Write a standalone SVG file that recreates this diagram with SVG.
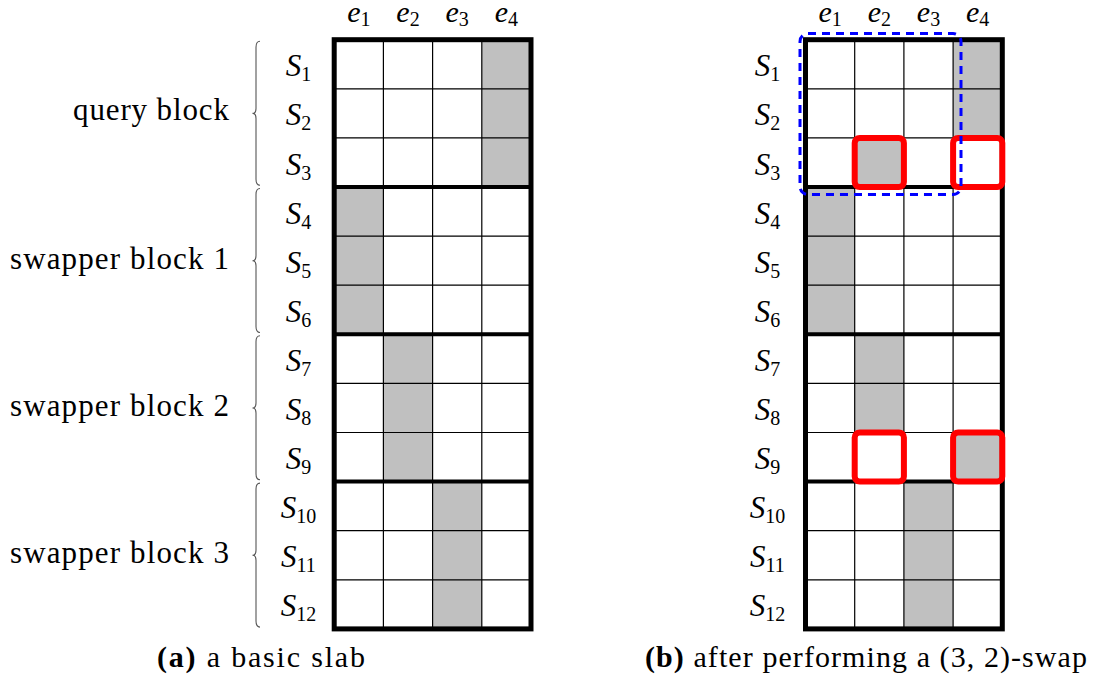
<svg xmlns="http://www.w3.org/2000/svg" width="1093" height="687" viewBox="0 0 1093 687" font-family="Liberation Serif, DejaVu Serif, serif">
  <style>
    text { font-family: "Liberation Serif", "DejaVu Serif", serif; fill: #000; }
    .m { font-style: italic; font-size: 31px; }
    .e { font-style: italic; font-size: 30px; }
    .sub { font-style: normal; font-size: 20px; }
    .blk { font-size: 31px; }
    .cap { font-size: 30px; }
    .fill { fill: #c0c0c0; }
    .thin { stroke: #000; stroke-width: 1.2; fill: none; }
    .thick { stroke: #000; stroke-width: 4; fill: none; }
    .border { stroke: #000; stroke-width: 5; fill: none; }
    .brace { stroke: #555; stroke-width: 1.1; fill: none; }
    .swap { stroke: #ff0000; stroke-width: 6; fill: none; }
    .query { stroke: #0000ff; stroke-width: 3; fill: none; stroke-dasharray: 8 6; }
  </style>

  <defs>
    <!-- shared grid lines of one 4x12 slab, local coordinates -->
    <g id="gridLines">
      <path class="thin" d="M49.2,0V589.2M98.4,0V589.2M147.6,0V589.2"/>
      <path class="thin" d="M0,49.1H196.8M0,98.2H196.8M0,196.4H196.8M0,245.5H196.8M0,343.7H196.8M0,392.8H196.8M0,491H196.8M0,540.1H196.8"/>
      <path class="thick" d="M0,147.3H196.8M0,294.6H196.8M0,441.9H196.8"/>
      <rect class="border" x="0" y="0" width="196.8" height="589.2"/>
    </g>
    <path id="braceShape" class="brace" d="M260,0 Q256,0 256,6 L256,67.2 Q256,72.2 252.5,72.2 Q256,72.2 256,77.2 L256,138 Q256,144 260,144"/>
  </defs>

  <!-- panel (a): basic slab -->
  <g id="slabA">
    <g transform="translate(334.2,39.7)">
      <rect class="fill" x="147.6" y="0" width="49.2" height="147.3"/>
      <rect class="fill" x="0" y="147.3" width="49.2" height="147.3"/>
      <rect class="fill" x="49.2" y="294.6" width="49.2" height="147.3"/>
      <rect class="fill" x="98.4" y="441.9" width="49.2" height="147.3"/>
      <use href="#gridLines"/>
    </g>
  </g>

  <g id="headerA">
    <text class="e" x="358.8" y="22" text-anchor="middle">e<tspan class="sub" dy="4">1</tspan></text>
    <text class="e" x="408" y="22" text-anchor="middle">e<tspan class="sub" dy="4">2</tspan></text>
    <text class="e" x="457.2" y="22" text-anchor="middle">e<tspan class="sub" dy="4">3</tspan></text>
    <text class="e" x="506.4" y="22" text-anchor="middle">e<tspan class="sub" dy="4">4</tspan></text>
  </g>

  <g id="rowsA">
    <text class="m" x="298.5" y="76.3" text-anchor="middle">S<tspan class="sub" dy="5">1</tspan></text>
    <text class="m" x="298.5" y="125.4" text-anchor="middle">S<tspan class="sub" dy="5">2</tspan></text>
    <text class="m" x="298.5" y="174.5" text-anchor="middle">S<tspan class="sub" dy="5">3</tspan></text>
    <text class="m" x="298.5" y="223.6" text-anchor="middle">S<tspan class="sub" dy="5">4</tspan></text>
    <text class="m" x="298.5" y="272.7" text-anchor="middle">S<tspan class="sub" dy="5">5</tspan></text>
    <text class="m" x="298.5" y="321.8" text-anchor="middle">S<tspan class="sub" dy="5">6</tspan></text>
    <text class="m" x="298.5" y="370.9" text-anchor="middle">S<tspan class="sub" dy="5">7</tspan></text>
    <text class="m" x="298.5" y="420" text-anchor="middle">S<tspan class="sub" dy="5">8</tspan></text>
    <text class="m" x="298.5" y="469.1" text-anchor="middle">S<tspan class="sub" dy="5">9</tspan></text>
    <text class="m" x="298.5" y="518.2" text-anchor="middle">S<tspan class="sub" dy="5">10</tspan></text>
    <text class="m" x="298.5" y="567.3" text-anchor="middle">S<tspan class="sub" dy="5">11</tspan></text>
    <text class="m" x="298.5" y="616.4" text-anchor="middle">S<tspan class="sub" dy="5">12</tspan></text>
  </g>

  <g id="blocks">
    <use href="#braceShape" transform="translate(0,41.2)"/>
    <use href="#braceShape" transform="translate(0,188.5)"/>
    <use href="#braceShape" transform="translate(0,335.8)"/>
    <use href="#braceShape" transform="translate(0,483.1)"/>
    <text class="blk" x="229" y="120" text-anchor="end" textLength="156" lengthAdjust="spacing">query block</text>
    <text class="blk" x="229" y="268.5" text-anchor="end" textLength="219" lengthAdjust="spacing">swapper block 1</text>
    <text class="blk" x="229" y="415.8" text-anchor="end" textLength="219" lengthAdjust="spacing">swapper block 2</text>
    <text class="blk" x="229" y="563.1" text-anchor="end" textLength="219" lengthAdjust="spacing">swapper block 3</text>
  </g>

  <!-- panel (b): after the (3,2)-swap -->
  <g id="slabB">
    <g transform="translate(805.5,39.7)">
      <rect class="fill" x="147.6" y="0" width="49.2" height="98.2"/>
      <rect class="fill" x="49.2" y="98.2" width="49.2" height="49.1"/>
      <rect class="fill" x="0" y="147.3" width="49.2" height="147.3"/>
      <rect class="fill" x="49.2" y="294.6" width="49.2" height="98.2"/>
      <rect class="fill" x="147.6" y="392.8" width="49.2" height="49.1"/>
      <rect class="fill" x="98.4" y="441.9" width="49.2" height="147.3"/>
      <use href="#gridLines"/>
      <g id="swappedCells">
        <rect class="swap" x="49.2" y="98.2" width="49.2" height="49.1" rx="5"/>
        <rect class="swap" x="147.6" y="98.2" width="49.2" height="49.1" rx="5"/>
        <rect class="swap" x="49.2" y="392.8" width="49.2" height="49.1" rx="5"/>
        <rect class="swap" x="147.6" y="392.8" width="49.2" height="49.1" rx="5"/>
      </g>
    </g>
    <rect id="queryRegion" class="query" x="800" y="33.5" width="161" height="161" rx="8"/>
  </g>

  <g id="headerB">
    <text class="e" x="830.1" y="22" text-anchor="middle">e<tspan class="sub" dy="4">1</tspan></text>
    <text class="e" x="879.3" y="22" text-anchor="middle">e<tspan class="sub" dy="4">2</tspan></text>
    <text class="e" x="928.5" y="22" text-anchor="middle">e<tspan class="sub" dy="4">3</tspan></text>
    <text class="e" x="977.7" y="22" text-anchor="middle">e<tspan class="sub" dy="4">4</tspan></text>
  </g>

  <g id="rowsB">
    <text class="m" x="767.5" y="76.3" text-anchor="middle">S<tspan class="sub" dy="5">1</tspan></text>
    <text class="m" x="767.5" y="125.4" text-anchor="middle">S<tspan class="sub" dy="5">2</tspan></text>
    <text class="m" x="767.5" y="174.5" text-anchor="middle">S<tspan class="sub" dy="5">3</tspan></text>
    <text class="m" x="767.5" y="223.6" text-anchor="middle">S<tspan class="sub" dy="5">4</tspan></text>
    <text class="m" x="767.5" y="272.7" text-anchor="middle">S<tspan class="sub" dy="5">5</tspan></text>
    <text class="m" x="767.5" y="321.8" text-anchor="middle">S<tspan class="sub" dy="5">6</tspan></text>
    <text class="m" x="767.5" y="370.9" text-anchor="middle">S<tspan class="sub" dy="5">7</tspan></text>
    <text class="m" x="767.5" y="420" text-anchor="middle">S<tspan class="sub" dy="5">8</tspan></text>
    <text class="m" x="767.5" y="469.1" text-anchor="middle">S<tspan class="sub" dy="5">9</tspan></text>
    <text class="m" x="767.5" y="518.2" text-anchor="middle">S<tspan class="sub" dy="5">10</tspan></text>
    <text class="m" x="767.5" y="567.3" text-anchor="middle">S<tspan class="sub" dy="5">11</tspan></text>
    <text class="m" x="767.5" y="616.4" text-anchor="middle">S<tspan class="sub" dy="5">12</tspan></text>
  </g>

  <g id="captions">
    <text class="cap" x="157" y="667" textLength="208" lengthAdjust="spacing"><tspan font-weight="bold">(a)</tspan> a basic slab</text>
    <text class="cap" x="645" y="667" textLength="442" lengthAdjust="spacing"><tspan font-weight="bold">(b)</tspan> after performing a (3, 2)-swap</text>
  </g>
</svg>
